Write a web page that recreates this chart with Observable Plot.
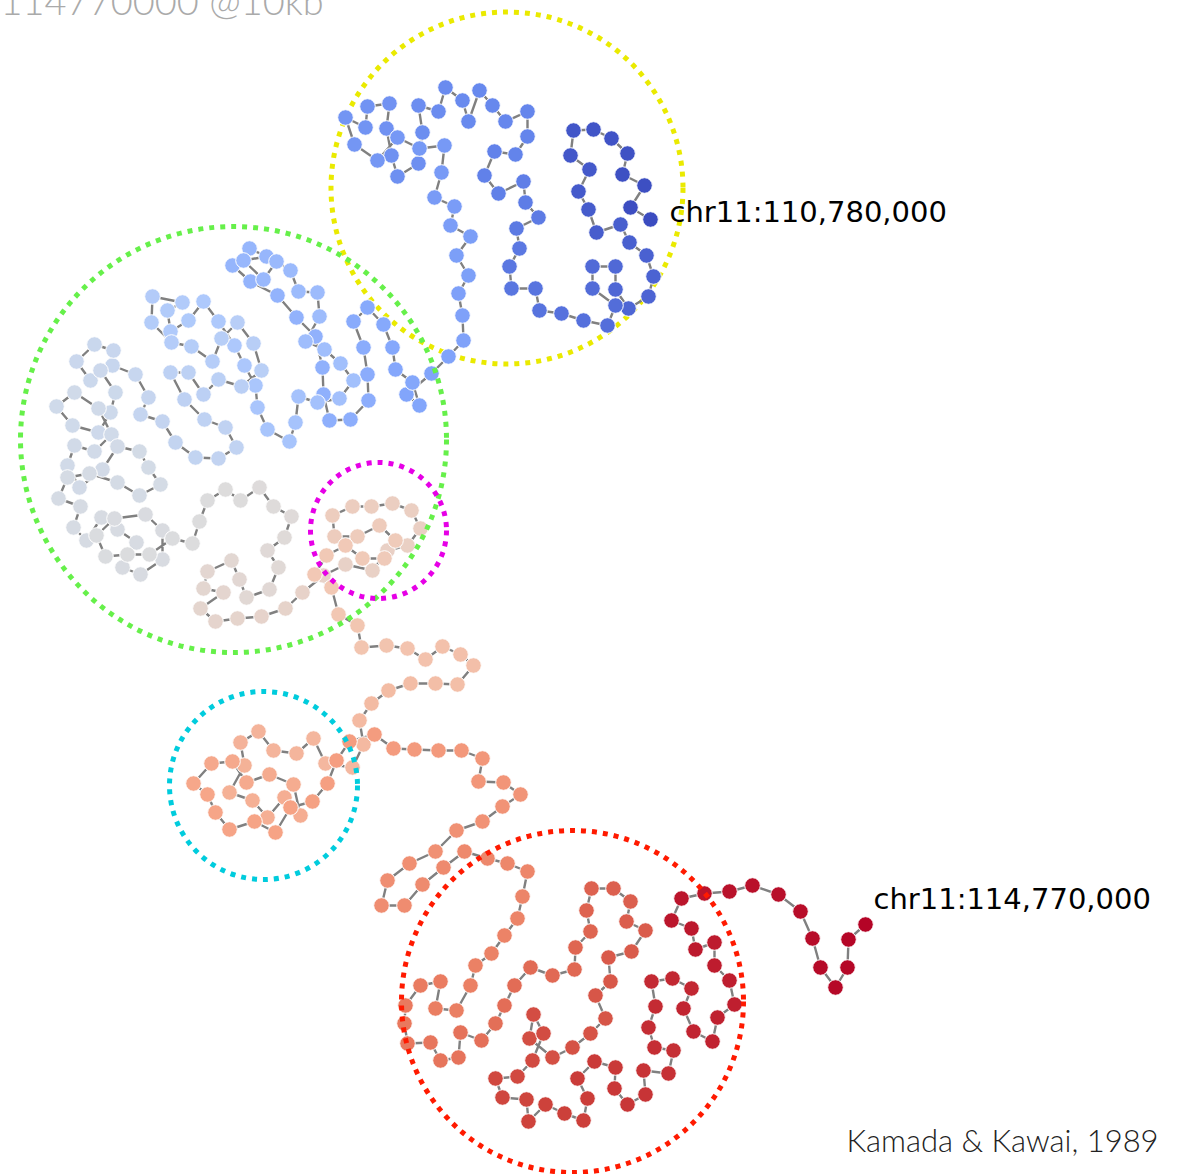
<!DOCTYPE html>
<html>
<head>
<meta charset="utf-8">
<style>html,body{margin:0;padding:0;background:#fff}svg{display:block}</style>
<script src="https://cdn.jsdelivr.net/npm/d3@7"></script>
<script src="https://cdn.jsdelivr.net/npm/@observablehq/plot@0.6"></script>
</head>
<body>
<div id="chart"></div>
<script>
const nodeX = [650,630,644,622,627,611,593,573,570,589,578,588,596,620,629,646,653,648,628,615,615,592,592,615,607,583,561,539,535,511,509,519,516,538,525,523,498,484,494,515,527,527,505,492,479,468,462,445,438,418,422,
418,397,391,386,389,367,365,345,354,377,397,419,444,441,434,454,450,470,456,468,458,462,463,448,431,406,419,412,395,392,383,367,353,363,367,368,350,329,323,322,
315,296,277,250,232,249,266,243,263,276,290,298,317,319,305,324,340,353,339,317,298,295,289,267,257,
255,244,234,218,203,188,170,167,182,152,151,171,191,212,221,237,253,261,241,218,203,188,170,184,204,225,236,218,195,175,162,140,148,135,112,113,94,76,90,100,115,110,98,72,56,74,98,111,94,74,67,79,102,117,139,148,160,139,117,89,67,58,80,73,86,101,117,136,122,140,162,162,145,114,96,105,127,149,172,192,
199,207,225,240,259,273,291,284,267,278,269,246,239,231,207,203,223,200,215,237,261,285,302,323,345,372,387,407,420,411,392,371,352,332,334,357,379,395,384,362,345,326,314,331,338,357,361,386,407,425,442,460,473,457,435,410,388,371,359,363,352,325,313,296,273,258,240,244,229,252,267,284,300,293,269,246,232,211,193,207,215,229,254,275,290,312,327,336,349,374,393,414,438,461,482,478,503,520,502,482,456,435,409,387,381,404,422,443,464,487,507,527,522,517,504,491,475,470,456,435,440,420,405,404,407,430,440,458,460,481,495,504,514,530,552,574,575,590,586,591,613,630,626,645,631,608,610,595,605,590,572,552,529,533,543,532,517,495,502,526,528,545,564,583,587,577,594,615,614,627,645,643,668,673,654,648,655,651,672,691,683,693,712,717,734,729,714,714,695,691,671,681,704,729,752,778,800,812,820,835,847,848,865];
const nodeY = [219,207,185,174,153,138,129,130,155,169,191,209,232,224,242,255,276,296,308,289,266,266,288,305,325,320,313,310,288,288,266,248,228,217,202,181,193,175,151,154,136,111,121,105,90,121,100,87,111,105,132,
163,176,155,128,103,106,127,117,144,160,137,148,145,172,197,206,225,236,255,275,293,315,340,356,373,394,405,382,369,347,324,307,321,347,374,400,419,420,394,367,
336,317,295,281,265,248,256,260,279,261,270,291,292,316,341,349,363,380,398,402,396,422,441,429,407,
385,365,345,321,301,320,331,310,302,296,322,342,346,361,338,322,343,370,386,379,394,372,372,399,419,427,447,458,457,442,421,414,397,374,365,350,344,361,380,370,392,412,432,425,406,392,408,434,451,445,465,487,469,446,451,467,484,495,482,473,477,498,506,527,540,517,529,542,567,574,559,530,514,518,535,556,554,554,538,543,
521,500,489,500,487,506,516,537,550,567,589,597,579,560,571,588,592,608,621,618,616,608,592,575,564,570,550,545,528,510,503,506,506,515,536,536,525,540,558,558,545,555,574,587,614,625,647,645,648,659,646,654,665,684,683,683,690,703,720,744,767,763,738,753,750,731,742,765,792,800,817,797,815,784,774,782,761,763,783,794,812,829,821,832,807,801,783,760,741,734,748,749,750,750,758,781,782,794,806,821,830,851,863,880,905,905,884,867,851,858,863,871,896,918,935,953,965,985,1010,1008,981,985,1005,1023,1043,1042,1060,1057,1032,1040,1023,1005,985,967,975,969,947,931,910,888,888,901,921,930,951,957,981,995,1018,1033,1047,1057,1038,1014,1033,1060,1076,1078,1097,1099,1121,1104,1113,1120,1098,1078,1061,1067,1088,1104,1094,1070,1073,1050,1047,1027,1006,981,978,988,1008,1031,1041,1017,1004,980,965,942,949,928,920,898,893,891,885,894,911,938,967,987,967,939,924];

const ringX = [506.5, 233, 378, 263, 572];
const ringY = [187.5, 439, 530, 785, 1001];
const ringR = [176, 213, 68, 94, 171];
const ringColors = ["#eaea00", "#66f04a", "#e600e6", "#00ccdd", "#ff1a00"];

const coolwarm = ["#3b4cc0", "#6485ec", "#85a8fc", "#aec9fc", "#cfdaea", "#dddcdc", "#f2c8b4", "#f6a385", "#e97a5f", "#cc403a", "#b40426"];
const coolwarmStops = [0, 0.1, 0.2, 0.3, 0.4, 0.5, 0.6, 0.7, 0.8, 0.9, 1];

const titleText = ["114770000 @10kb"];
const creditText = ["Kamada & Kawai, 1989"];
const startLabel = ["chr11:110,780,000"];
const endLabel = ["chr11:114,770,000"];

const n = nodeX.length;
const nodes = nodeX.map((x, i) => ({x, y: nodeY[i], i}));
const rings = ringX.map((x, i) => ({x, y: ringY[i], r: ringR[i], c: ringColors[i]}));
const ringMark = (data) => Plot.dot(data, {
  x: "x", y: "y", r: "r", stroke: "c", fill: "none",
  strokeWidth: 5, strokeDasharray: "5,6"
});

const chart = Plot.plot({
  width: 1185, height: 1174, margin: 0,
  x: {axis: null, domain: [0, 1185], range: [0, 1185]},
  y: {axis: null, domain: [0, 1174], range: [0, 1174]},
  r: {type: "linear", domain: [0, 1000], range: [0, 1000]},
  color: {type: "linear", domain: coolwarmStops.map(s => s * (n - 1)), range: coolwarm},
  style: {background: "#fff"},
  marks: [
    ringMark(rings.slice(0, 1)),
    Plot.line(nodes, {x: "x", y: "y", stroke: "#808080", strokeWidth: 2.4}),
    Plot.dot(nodes, {x: "x", y: "y", r: 7.8, fill: "i", stroke: "#fff", strokeWidth: 1}),
    ringMark(rings.slice(1)),
    Plot.text(titleText, {x: () => 0, y: () => 14, text: d => d, textAnchor: "start", lineAnchor: "bottom",
      fontSize: 38, fontFamily: "Lato", fontWeight: 300, fill: "#aaa"}),
    Plot.text(creditText, {x: () => 846, y: () => 1151, text: d => d, textAnchor: "start", lineAnchor: "bottom",
      fontSize: 31, fontFamily: "Lato", fontWeight: 300, fill: "#222"}),
    Plot.text(startLabel, {x: () => 669, y: () => 221, text: d => d, textAnchor: "start", lineAnchor: "bottom",
      fontSize: 29, fontFamily: "DejaVu Sans", fill: "#000"}),
    Plot.text(endLabel, {x: () => 873, y: () => 908, text: d => d, textAnchor: "start", lineAnchor: "bottom",
      fontSize: 29, fontFamily: "DejaVu Sans", fill: "#000"})
  ]
});
document.getElementById("chart").append(chart);
</script>
</body>
</html>
